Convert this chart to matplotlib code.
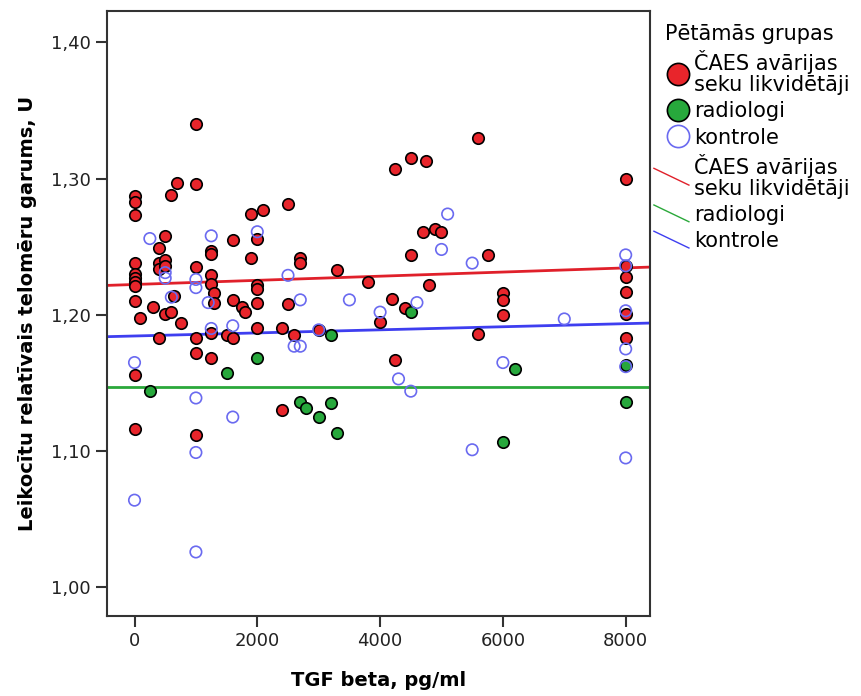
import matplotlib
matplotlib.use('Agg')
import matplotlib.pyplot as plt
import numpy as np
from matplotlib.lines import Line2D
from matplotlib.legend_handler import HandlerBase
from matplotlib.ticker import FuncFormatter

# ČAES avārijas seku likvidētāji (red)
red_x = [0, 0, 0, 0, 0, 0, 0, 0, 0, 0, 0,
         90, 300, 400, 400, 400, 400, 500, 500, 500, 500, 600, 600, 650, 700, 750,
         1000, 1000, 1000, 1000, 1000, 1000,
         1250, 1250, 1250, 1250, 1250, 1250, 1300, 1300, 1500,
         1600, 1600, 1600, 1750, 1800, 1900, 1900,
         2000, 2000, 2000, 2000, 2000, 2100, 2400, 2400, 2500, 2500, 2600, 2700, 2700,
         3000, 3300, 3800, 4000, 4200, 4250, 4250, 4400, 4500, 4500,
         4700, 4750, 4800, 4900, 5000, 5600, 5600, 5750, 6000, 6000, 6000,
         8000, 8000, 8000, 8000, 8000, 8000]
red_y = [1.287, 1.283, 1.273, 1.238, 1.230, 1.227, 1.224, 1.221, 1.210, 1.156, 1.116,
         1.198, 1.206, 1.249, 1.238, 1.234, 1.183, 1.258, 1.240, 1.236, 1.201, 1.288, 1.202, 1.214, 1.297, 1.194,
         1.340, 1.296, 1.235, 1.183, 1.172, 1.112,
         1.247, 1.245, 1.229, 1.223, 1.187, 1.168, 1.216, 1.209, 1.185,
         1.255, 1.211, 1.183, 1.206, 1.202, 1.274, 1.242,
         1.256, 1.222, 1.219, 1.209, 1.190, 1.277, 1.190, 1.130, 1.281, 1.208, 1.185, 1.242, 1.238,
         1.189, 1.233, 1.224, 1.195, 1.212, 1.307, 1.167, 1.205, 1.315, 1.244,
         1.261, 1.313, 1.222, 1.263, 1.261, 1.330, 1.186, 1.244, 1.216, 1.211, 1.200,
         1.300, 1.236, 1.228, 1.217, 1.201, 1.183]

# radiologi (green)
green_x = [250, 1500, 2000, 2700, 2800, 3000, 3200, 3200, 3300, 4500, 6000, 6200, 8000, 8000]
green_y = [1.144, 1.157, 1.168, 1.136, 1.132, 1.125, 1.185, 1.135, 1.113, 1.202, 1.107, 1.160, 1.163, 1.136]

# kontrole (blue, open)
blue_x = [0, 0, 250, 500, 500, 600, 1000, 1000, 1000, 1000, 1000, 1200, 1250, 1250,
          1600, 1600, 2000, 2500, 2600, 2700, 2700, 3000, 3500, 4000, 4300, 4500, 4600,
          5000, 5100, 5500, 5500, 6000, 7000, 8000, 8000, 8000, 8000, 8000, 8000]
blue_y = [1.165, 1.064, 1.256, 1.231, 1.227, 1.213, 1.226, 1.220, 1.139, 1.099, 1.026, 1.209, 1.258, 1.190,
          1.192, 1.125, 1.261, 1.229, 1.177, 1.211, 1.177, 1.189, 1.211, 1.202, 1.153, 1.144, 1.209,
          1.248, 1.274, 1.238, 1.101, 1.165, 1.197, 1.244, 1.236, 1.203, 1.175, 1.162, 1.095]

# fit lines (intercept, slope) per group
fit_red = (1.2223, 1.52e-6)
fit_green = (1.1472, 0.0)
fit_blue = (1.1845, 1.13e-6)

group_labels = ['ČAES avārijas\nseku likvidētāji', 'radiologi', 'kontrole']
legend_title = 'Pētāmās grupas'

RED = '#e8252b'
GREEN = '#27a83c'
BLUE = '#6a6af0'
RED_LINE = '#e0202a'
GREEN_LINE = '#2aa83a'
BLUE_LINE = '#3e3ef0'


class DiagHandler(HandlerBase):
    def create_artists(self, legend, orig_handle, xdescent, ydescent,
                       width, height, fontsize, trans):
        x0 = -xdescent - 0.45 * width
        x1 = -xdescent + width * 0.95
        y0 = -ydescent + height * 1.1
        y1 = -ydescent - height * 0.05
        ln = Line2D([x0, x1], [y0, y1], color=orig_handle.get_color(), lw=1.0, transform=trans)
        return [ln]


fig = plt.figure(figsize=(8.62, 6.96), dpi=100)
ax = fig.add_axes([107 / 862, 80 / 696, 543 / 862, 605 / 696])

xlim = (-448, 8396)
ylim = (0.979, 1.423)

ax.scatter(red_x, red_y, s=68, c=RED, edgecolors='black', linewidths=1.2, zorder=3)
ax.scatter(green_x, green_y, s=68, c=GREEN, edgecolors='black', linewidths=1.2, zorder=3)
ax.scatter(blue_x, blue_y, s=68, facecolors='none', edgecolors=BLUE, linewidths=1.2, zorder=4)

xs = np.array(xlim)
for (b0, b1), col in [(fit_red, RED_LINE), (fit_green, GREEN_LINE), (fit_blue, BLUE_LINE)]:
    ax.plot(xs, b0 + b1 * xs, color=col, lw=2, zorder=2)

ax.set_xlim(xlim)
ax.set_ylim(ylim)
ax.set_xticks([0, 2000, 4000, 6000, 8000])
ax.set_yticks([1.0, 1.1, 1.2, 1.3, 1.4])
ax.yaxis.set_major_formatter(FuncFormatter(lambda v, p: ('%.2f' % v).replace('.', ',')))
ax.tick_params(labelsize=13, length=8, width=1.5, color='#333333', labelcolor='#222222')
for sp in ax.spines.values():
    sp.set_color('#333333')
    sp.set_linewidth(1.5)

ax.set_xlabel('TGF beta, pg/ml', fontsize=14, fontweight='bold', labelpad=15)
ax.set_ylabel('Leikocītu relatīvais telomēru garums, U', fontsize=14, fontweight='bold', labelpad=10)

handles = [
    Line2D([], [], ls='none', marker='o', ms=16, mfc=RED, mec='black', mew=1.2),
    Line2D([], [], ls='none', marker='o', ms=16, mfc=GREEN, mec='black', mew=1.2),
    Line2D([], [], ls='none', marker='o', ms=16, mfc='none', mec=BLUE, mew=1.2),
    Line2D([], [], color=RED_LINE),
    Line2D([], [], color=GREEN_LINE),
    Line2D([], [], color=BLUE_LINE),
]
hmap = {h: DiagHandler() for h in handles[3:]}
leg = fig.legend(handles, group_labels + group_labels, title=legend_title,
                 loc='upper left', bbox_to_anchor=(661 / 862, 1 - 20 / 696),
                 frameon=False, fontsize=15, title_fontsize=15, handler_map=hmap,
                 handlelength=1.2, handletextpad=0.2, labelspacing=0.3, borderpad=0.2,
                 borderaxespad=0)
leg._legend_box.align = 'left'
for t in leg.get_texts():
    t.set_linespacing(1.05)

fig.savefig('out.png', dpi=100)
